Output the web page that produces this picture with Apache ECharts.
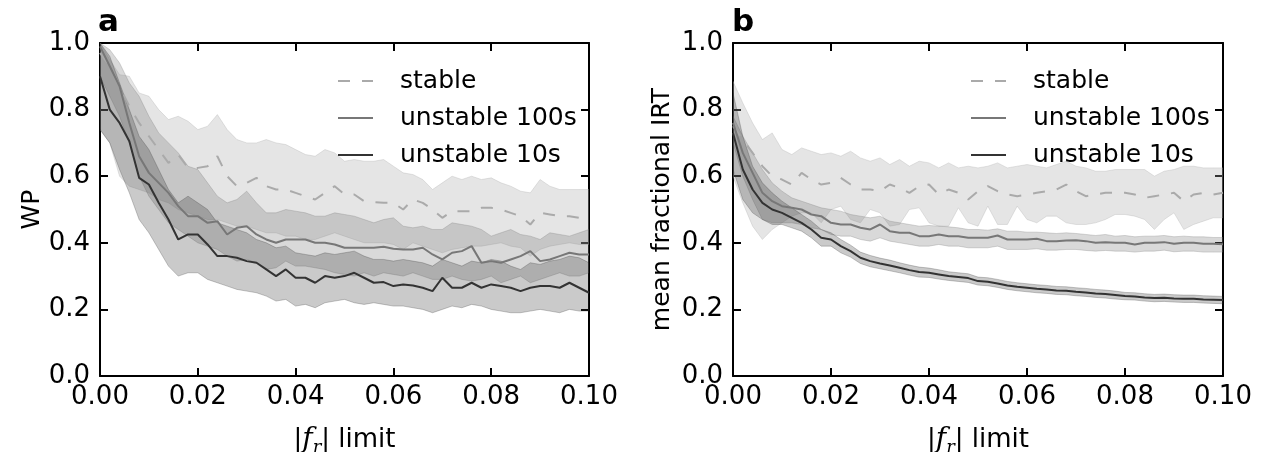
<!DOCTYPE html>
<html><head><meta charset="utf-8">
<script src="https://cdn.jsdelivr.net/npm/echarts@6/dist/echarts.min.js"></script>
<style>html,body{margin:0;padding:0;background:#fff}#c{width:1269px;height:452px}</style>
</head><body><div id="c"></div>
<script>
const X = [0.000,0.002,0.004,0.006,0.008,0.010,0.012,0.014,0.016,0.018,0.020,0.022,0.024,0.026,0.028,0.030,0.032,0.034,0.036,0.038,0.040,0.042,0.044,0.046,0.048,0.050,0.052,0.054,0.056,0.058,0.060,0.062,0.064,0.066,0.068,0.070,0.072,0.074,0.076,0.078,0.080,0.082,0.084,0.086,0.088,0.090,0.092,0.094,0.096,0.098,0.100];
const xTicks = [0.00,0.02,0.04,0.06,0.08,0.10];
const yTicks = [0.0,0.2,0.4,0.6,0.8,1.0];
const seriesNames = ['stable','unstable 100s','unstable 10s'];

// Panel a (WP)
const aStableMean = [0.97,0.93,0.87,0.81,0.76,0.72,0.68,0.64,0.665,0.625,0.625,0.63,0.66,0.60,0.57,0.58,0.595,0.57,0.56,0.56,0.55,0.54,0.53,0.55,0.57,0.545,0.545,0.525,0.522,0.52,0.52,0.50,0.53,0.52,0.50,0.475,0.495,0.495,0.495,0.505,0.505,0.50,0.49,0.48,0.455,0.49,0.485,0.48,0.48,0.475,0.475];
const aStableUp = [1.0,0.95,0.905,0.90,0.85,0.84,0.80,0.77,0.78,0.765,0.74,0.75,0.785,0.74,0.71,0.70,0.70,0.71,0.70,0.695,0.68,0.665,0.66,0.68,0.67,0.645,0.65,0.645,0.645,0.65,0.63,0.61,0.605,0.59,0.56,0.58,0.60,0.59,0.60,0.59,0.595,0.58,0.57,0.555,0.55,0.59,0.57,0.56,0.56,0.56,0.56];
const aStableLo = [0.74,0.70,0.60,0.57,0.56,0.55,0.53,0.52,0.50,0.49,0.48,0.47,0.47,0.46,0.45,0.45,0.44,0.43,0.43,0.42,0.42,0.41,0.41,0.42,0.43,0.42,0.41,0.40,0.40,0.40,0.395,0.38,0.40,0.39,0.38,0.37,0.38,0.385,0.39,0.39,0.395,0.40,0.39,0.385,0.36,0.38,0.39,0.395,0.40,0.395,0.395];
const a100Mean = [0.99,0.93,0.87,0.76,0.66,0.61,0.58,0.55,0.51,0.48,0.48,0.46,0.465,0.425,0.445,0.45,0.425,0.41,0.40,0.41,0.41,0.41,0.40,0.40,0.395,0.385,0.385,0.385,0.385,0.388,0.382,0.38,0.38,0.385,0.365,0.35,0.37,0.375,0.39,0.34,0.345,0.34,0.35,0.36,0.375,0.345,0.35,0.36,0.37,0.365,0.365];
const a100Up = [1.0,0.98,0.94,0.88,0.84,0.78,0.73,0.70,0.67,0.63,0.62,0.58,0.54,0.52,0.53,0.555,0.52,0.49,0.49,0.50,0.495,0.49,0.48,0.48,0.49,0.485,0.48,0.47,0.46,0.47,0.475,0.45,0.445,0.45,0.44,0.44,0.46,0.455,0.45,0.44,0.42,0.43,0.44,0.425,0.42,0.41,0.43,0.425,0.42,0.43,0.44];
const a100Lo = [0.90,0.84,0.78,0.70,0.60,0.54,0.50,0.46,0.44,0.42,0.40,0.39,0.38,0.36,0.345,0.35,0.34,0.32,0.325,0.345,0.33,0.33,0.325,0.32,0.31,0.305,0.30,0.31,0.30,0.31,0.305,0.30,0.31,0.30,0.29,0.29,0.30,0.29,0.285,0.29,0.30,0.28,0.29,0.30,0.28,0.29,0.30,0.31,0.30,0.30,0.31];
const a10Mean = [0.90,0.80,0.76,0.705,0.595,0.575,0.52,0.47,0.41,0.425,0.425,0.395,0.36,0.36,0.355,0.345,0.34,0.32,0.30,0.32,0.295,0.295,0.28,0.30,0.295,0.30,0.31,0.295,0.28,0.282,0.27,0.275,0.272,0.265,0.255,0.295,0.265,0.265,0.28,0.265,0.275,0.27,0.265,0.255,0.265,0.27,0.27,0.265,0.28,0.265,0.25];
const a10Up = [1.0,0.96,0.88,0.80,0.72,0.68,0.62,0.56,0.52,0.54,0.52,0.50,0.46,0.45,0.44,0.43,0.41,0.40,0.385,0.39,0.37,0.365,0.36,0.37,0.365,0.37,0.375,0.36,0.35,0.35,0.345,0.35,0.345,0.34,0.33,0.35,0.34,0.33,0.345,0.34,0.35,0.345,0.33,0.32,0.34,0.335,0.345,0.35,0.36,0.355,0.34];
const a10Lo = [0.74,0.70,0.62,0.55,0.47,0.43,0.38,0.33,0.30,0.31,0.31,0.29,0.28,0.27,0.26,0.255,0.25,0.24,0.225,0.23,0.21,0.215,0.205,0.22,0.225,0.23,0.22,0.215,0.22,0.215,0.21,0.21,0.205,0.20,0.19,0.20,0.21,0.205,0.215,0.21,0.20,0.195,0.19,0.19,0.195,0.20,0.195,0.19,0.20,0.195,0.195];

// Panel b (mean fractional IRT)
const bStableMean = [0.75,0.71,0.67,0.63,0.60,0.59,0.575,0.61,0.59,0.575,0.58,0.595,0.575,0.56,0.56,0.555,0.575,0.565,0.55,0.57,0.575,0.545,0.56,0.55,0.53,0.555,0.57,0.555,0.545,0.54,0.545,0.55,0.555,0.56,0.575,0.555,0.54,0.545,0.55,0.55,0.55,0.545,0.535,0.54,0.545,0.55,0.525,0.545,0.55,0.545,0.55];
const bStableUp = [0.885,0.82,0.76,0.71,0.73,0.68,0.665,0.685,0.675,0.665,0.67,0.66,0.675,0.655,0.645,0.655,0.635,0.65,0.63,0.645,0.64,0.625,0.64,0.625,0.63,0.625,0.63,0.64,0.625,0.63,0.635,0.63,0.625,0.635,0.645,0.63,0.625,0.615,0.615,0.62,0.62,0.62,0.62,0.60,0.615,0.62,0.63,0.63,0.625,0.625,0.625];
const bStableLo = [0.60,0.52,0.45,0.41,0.44,0.46,0.48,0.49,0.49,0.46,0.50,0.51,0.47,0.46,0.50,0.49,0.45,0.455,0.50,0.505,0.46,0.45,0.45,0.505,0.46,0.45,0.51,0.455,0.455,0.51,0.47,0.46,0.48,0.48,0.46,0.455,0.455,0.46,0.47,0.485,0.485,0.48,0.47,0.44,0.47,0.49,0.44,0.455,0.465,0.475,0.475];
const b100Mean = [0.76,0.67,0.61,0.55,0.525,0.51,0.505,0.50,0.485,0.48,0.46,0.455,0.455,0.445,0.44,0.455,0.435,0.43,0.43,0.42,0.42,0.425,0.42,0.42,0.415,0.415,0.415,0.422,0.41,0.41,0.41,0.412,0.405,0.405,0.407,0.408,0.405,0.40,0.402,0.40,0.40,0.395,0.40,0.40,0.402,0.397,0.40,0.40,0.397,0.397,0.396];
const b100Up = [0.78,0.72,0.67,0.62,0.58,0.555,0.535,0.525,0.515,0.505,0.50,0.495,0.485,0.48,0.475,0.48,0.465,0.46,0.455,0.45,0.452,0.45,0.448,0.445,0.44,0.44,0.438,0.442,0.435,0.435,0.432,0.432,0.43,0.428,0.43,0.428,0.425,0.422,0.425,0.42,0.422,0.418,0.42,0.42,0.422,0.418,0.42,0.418,0.418,0.416,0.416];
const b100Lo = [0.70,0.60,0.53,0.47,0.46,0.46,0.46,0.455,0.445,0.44,0.425,0.42,0.42,0.41,0.405,0.415,0.405,0.40,0.395,0.39,0.39,0.395,0.39,0.39,0.385,0.385,0.385,0.39,0.38,0.38,0.38,0.382,0.378,0.378,0.38,0.38,0.377,0.375,0.377,0.375,0.375,0.372,0.375,0.375,0.378,0.373,0.375,0.375,0.372,0.372,0.372];
const b10Mean = [0.73,0.62,0.56,0.52,0.50,0.49,0.475,0.46,0.44,0.415,0.41,0.39,0.375,0.355,0.345,0.338,0.332,0.325,0.318,0.312,0.31,0.305,0.30,0.297,0.294,0.285,0.283,0.278,0.272,0.268,0.265,0.262,0.26,0.257,0.256,0.253,0.251,0.248,0.246,0.243,0.24,0.239,0.236,0.234,0.235,0.233,0.232,0.232,0.23,0.229,0.228];
const b10Up = [0.85,0.72,0.63,0.58,0.55,0.525,0.505,0.485,0.465,0.44,0.43,0.41,0.393,0.372,0.362,0.354,0.348,0.34,0.333,0.327,0.324,0.319,0.313,0.31,0.307,0.297,0.295,0.29,0.284,0.28,0.277,0.274,0.272,0.269,0.268,0.265,0.263,0.26,0.258,0.255,0.251,0.25,0.247,0.245,0.246,0.244,0.243,0.243,0.241,0.24,0.239];
const b10Lo = [0.62,0.53,0.49,0.47,0.455,0.455,0.445,0.435,0.415,0.39,0.39,0.37,0.357,0.338,0.328,0.322,0.316,0.31,0.303,0.297,0.296,0.291,0.287,0.284,0.281,0.273,0.271,0.266,0.26,0.256,0.253,0.25,0.248,0.245,0.244,0.241,0.239,0.236,0.234,0.231,0.229,0.228,0.225,0.223,0.224,0.222,0.221,0.221,0.219,0.218,0.217];

const FONT = 'DejaVu Sans';
const COLORS = {stable: '#aaaaaa', u100: '#777777', u10: '#333333'};
const FILLS = {stable: 'rgba(170,170,170,0.3)', u100: 'rgba(119,119,119,0.28)', u10: 'rgba(51,51,51,0.26)'};

function band(xi, yi, lo, up, fill) {
  return {
    type: 'custom', xAxisIndex: xi, yAxisIndex: yi, silent: true, z: 1, clip: true,
    data: X.map((x, i) => [x, lo[i], up[i]]),
    encode: {x: 0, y: [1, 2]},
    renderItem: function (params, api) {
      if (params.dataIndex !== 0) return null;
      const pts = [];
      for (let i = 0; i < X.length; i++) pts.push(api.coord([X[i], up[i]]));
      for (let i = X.length - 1; i >= 0; i--) pts.push(api.coord([X[i], lo[i]]));
      return {type: 'polygon', shape: {points: pts}, style: {fill: fill, stroke: fill, lineWidth: 1}};
    }
  };
}
function line(xi, yi, name, vals, color, dashed) {
  return {
    type: 'line', name: name, xAxisIndex: xi, yAxisIndex: yi, z: 3,
    symbol: 'none', showSymbol: false, animation: false,
    data: X.map((x, i) => [x, vals[i]]),
    lineStyle: {color: color, width: 2, type: dashed ? [12, 12] : 'solid'},
    itemStyle: {color: color}
  };
}
const tickStyle = {show: true, inside: true, length: 8, lineStyle: {color: '#000', width: 2}};
const axisLineStyle = {show: true, onZero: false, lineStyle: {color: '#000', width: 2}};
const labelStyle = {color: '#000', fontSize: 26, fontFamily: FONT, hideOverlap: false};
const xNameRich = {
  t: {fontSize: 26, fontFamily: FONT, color: '#000', lineHeight: 34},
  f: {fontSize: 28, fontFamily: 'DejaVu Serif', fontStyle: 'italic', color: '#000', lineHeight: 34},
  s: {fontSize: 18, fontFamily: 'DejaVu Serif', fontStyle: 'italic', color: '#000', lineHeight: 20, verticalAlign: 'bottom'}
};
function xBottom(g) {
  return {type: 'value', gridIndex: g, position: 'bottom', min: 0, max: 0.1, interval: 0.02,
    axisLine: axisLineStyle, axisTick: tickStyle, splitLine: {show: false},
    axisLabel: Object.assign({margin: 8, alignMinLabel: 'center', alignMaxLabel: 'center',
      formatter: v => v.toFixed(2)}, labelStyle),
    name: '{t||}{f|f}{s|r}{t|| limit}', nameLocation: 'middle', nameGap: 47, nameMoveOverlap: false,
    nameTextStyle: {rich: xNameRich}};
}
function xTop(g) {
  return {type: 'value', gridIndex: g, position: 'top', min: 0, max: 0.1, interval: 0.02,
    axisLine: axisLineStyle, axisTick: tickStyle, splitLine: {show: false}, axisLabel: {show: false}};
}
function yLeft(g, name, gap) {
  return {type: 'value', gridIndex: g, position: 'left', min: 0, max: 1, interval: 0.2,
    axisLine: axisLineStyle, axisTick: tickStyle, splitLine: {show: false},
    axisLabel: Object.assign({margin: 10, verticalAlignMinLabel: 'middle', verticalAlignMaxLabel: 'middle',
      formatter: v => v.toFixed(1)}, labelStyle),
    name: name, nameLocation: 'middle', nameGap: gap, nameMoveOverlap: false,
    nameTextStyle: {fontSize: 25, fontFamily: FONT, color: '#000'}};
}
function yRight(g) {
  return {type: 'value', gridIndex: g, position: 'right', min: 0, max: 1, interval: 0.2,
    axisLine: axisLineStyle, axisTick: tickStyle, splitLine: {show: false}, axisLabel: {show: false}};
}
function legend(left) {
  return {data: seriesNames, left: left, top: 61, orient: 'vertical', itemWidth: 35, itemHeight: 14,
    itemGap: 7, selectedMode: false, itemStyle: {opacity: 0},
    textStyle: {fontSize: 25, fontFamily: FONT, color: '#000', lineHeight: 30, padding: [0, 0, 0, 22]}};
}

const chart = echarts.init(document.getElementById('c'), null, {renderer: 'canvas'});
chart.setOption({
  animation: false,
  backgroundColor: '#fff',
  grid: [
    {left: 100, top: 43, width: 489, height: 333, outerBoundsMode: 'none'},
    {left: 733, top: 43, width: 490, height: 333, outerBoundsMode: 'none'}
  ],
  xAxis: [xBottom(0), xTop(0), xBottom(1), xTop(1)],
  yAxis: [yLeft(0, 'WP', 55), yRight(0), yLeft(1, 'mean fractional IRT', 58), yRight(1)],
  legend: [legend(332), legend(965)],
  graphic: [
    {type: 'text', left: 98, top: 7, style: {text: 'a', font: 'bold 31px "DejaVu Sans"', fill: '#000'}},
    {type: 'text', left: 732, top: 7, style: {text: 'b', font: 'bold 31px "DejaVu Sans"', fill: '#000'}}
  ],
  series: [
    band(0, 0, aStableLo, aStableUp, FILLS.stable),
    band(0, 0, a100Lo, a100Up, FILLS.u100),
    band(0, 0, a10Lo, a10Up, FILLS.u10),
    line(0, 0, seriesNames[0], aStableMean, COLORS.stable, true),
    line(0, 0, seriesNames[1], a100Mean, COLORS.u100, false),
    line(0, 0, seriesNames[2], a10Mean, COLORS.u10, false),
    band(2, 2, bStableLo, bStableUp, FILLS.stable),
    band(2, 2, b100Lo, b100Up, FILLS.u100),
    band(2, 2, b10Lo, b10Up, FILLS.u10),
    line(2, 2, seriesNames[0], bStableMean, COLORS.stable, true),
    line(2, 2, seriesNames[1], b100Mean, COLORS.u100, false),
    line(2, 2, seriesNames[2], b10Mean, COLORS.u10, false)
  ]
});
</script>
</body></html>
